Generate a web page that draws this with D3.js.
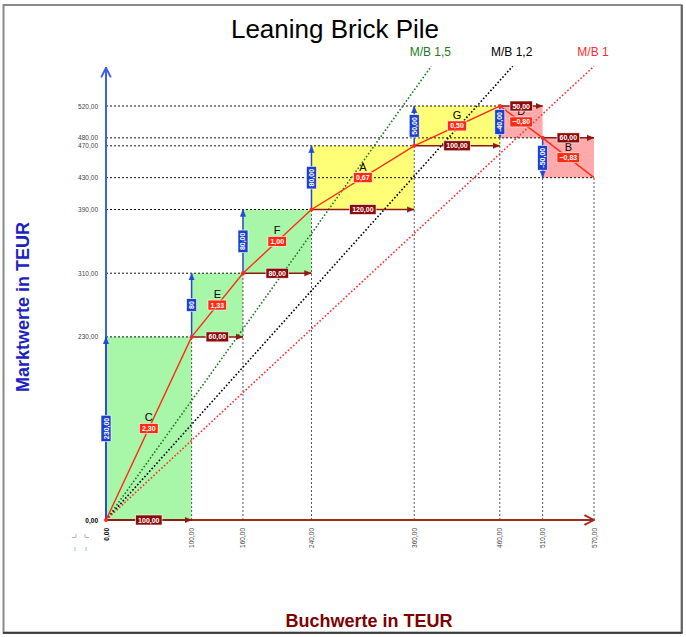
<!DOCTYPE html>
<html>
<head>
<meta charset="utf-8">
<script src="https://cdn.jsdelivr.net/npm/d3@7"></script>
<style>
  body { margin: 0; background: #fff; }
  svg { display: block; font-family: Arial, "Liberation Sans", sans-serif; }
</style>
</head>
<body>
<div id="chart"></div>
<script>
// Daten: Buchwert / Marktwert je Eckpunkt des Stapels
const segmentNames = ["C", "E", "F", "A", "G", "D", "B"];
const buchwerte = [0, 100, 160, 240, 360, 460, 510, 570];
const marktwerte = [0, 230, 310, 390, 470, 520, 480, 430];
const deltaMarktLabels = ["230,00", "80", "80,00", "80,00", "50,00", "-40,00", "-50,00"];
const yTicks = [0, 230, 310, 390, 430, 470, 480, 520];
const xTicks = [0, 100, 160, 240, 360, 460, 510, 570];
const mbNames = ["M/B 1,5", "M/B 1,2", "M/B 1"];
const mbRatios = [1.5, 1.2, 1];

const w = 686, h = 637;
const fmt = v => d3.format(".2f")(v).replace(".", ",");

const x = d3.scaleLinear().domain([0, 570]).range([106, 594]);
const y = d3.scaleLinear().domain([0, 570]).range([520, 66.2]);

const zoneColor = d3.scaleThreshold().domain([0, 1]).range(["#ffaaaa", "#ffff77", "#a8f7a8"]);
const mbColor = d3.scaleOrdinal().domain(mbNames).range(["#1f7a1f", "#000000", "#ff2b2b"]);

const points = buchwerte.map((b, i) => ({b: b, m: marktwerte[i]}));
const segments = segmentNames.map((name, i) => {
    const p0 = points[i], p1 = points[i + 1];
    const dB = p1.b - p0.b, dM = p1.m - p0.m;
    return {name: name, p0: p0, p1: p1, dB: dB, dM: dM, ratio: dM / dB, vLabel: deltaMarktLabels[i]};
});

const svg = d3.select("#chart").append("svg")
    .attr("width", w)
    .attr("height", h);

// Rahmen
svg.append("rect")
    .attr("x", 3.5).attr("y", 5)
    .attr("width", 678).attr("height", 627.5)
    .attr("fill", "#fff")
    .attr("stroke", "#8a8a8a")
    .attr("stroke-width", 2);
svg.append("line")
    .attr("x1", 3).attr("x2", 682.5).attr("y1", 633).attr("y2", 633)
    .attr("stroke", "#222").attr("stroke-width", 1.5);
svg.append("line")
    .attr("x1", 682).attr("x2", 682).attr("y1", 5).attr("y2", 633)
    .attr("stroke", "#555").attr("stroke-width", 1.5);

const defs = svg.append("defs");
function marker(id, color, size, open) {
    defs.append("marker")
        .attr("id", id)
        .attr("viewBox", "0 0 10 10")
        .attr("refX", open ? 9 : 10).attr("refY", 5)
        .attr("markerUnits", "userSpaceOnUse")
        .attr("markerWidth", size).attr("markerHeight", size)
        .attr("orient", "auto")
        .append("path")
        .attr("d", open ? "M1,1 L9,5 L1,9" : "M0,1 L10,5 L0,9 Z")
        .attr("fill", open ? "none" : color)
        .attr("stroke", color)
        .attr("stroke-width", open ? 1.6 : 0.5);
}
marker("arrBlue", "#2448d8", 7, false);
marker("arrRed", "#8b1a10", 7, false);
marker("openBlue", "#3d5ee6", 12, true);
marker("openRed", "#a02a20", 12, true);

// Titel
svg.append("text")
    .attr("x", 335).attr("y", 38)
    .attr("text-anchor", "middle")
    .attr("font-size", 26)
    .text("Leaning Brick Pile");

// Felder
svg.append("g").selectAll("rect")
    .data(segments)
    .enter().append("rect")
    .attr("x", d => x(Math.min(d.p0.b, d.p1.b)))
    .attr("y", d => y(Math.max(d.p0.m, d.p1.m)))
    .attr("width", d => Math.abs(x(d.p1.b) - x(d.p0.b)))
    .attr("height", d => Math.abs(y(d.p1.m) - y(d.p0.m)))
    .attr("fill", d => zoneColor(d.ratio));

// Hilfslinien
const grid = svg.append("g");
grid.selectAll("line.h")
    .data(points.slice(1))
    .enter().append("line")
    .attr("class", "h")
    .attr("x1", x(0)).attr("x2", d => x(d.b))
    .attr("y1", d => y(d.m)).attr("y2", d => y(d.m))
    .attr("stroke", "#111").attr("stroke-width", 1)
    .attr("stroke-dasharray", "2,2");
grid.selectAll("line.v")
    .data(points.slice(1))
    .enter().append("line")
    .attr("class", "v")
    .attr("x1", d => x(d.b)).attr("x2", d => x(d.b))
    .attr("y1", y(0)).attr("y2", d => y(d.m))
    .attr("stroke", "#555").attr("stroke-width", 1)
    .attr("stroke-dasharray", "2,2");

// M/B Linien
const mbTop = 570;
const mb = svg.append("g");
mb.selectAll("line")
    .data(mbNames)
    .enter().append("line")
    .attr("x1", x(0)).attr("y1", y(0))
    .attr("x2", (d, i) => x(mbTop / mbRatios[i]))
    .attr("y2", y(mbTop))
    .attr("stroke", d => mbColor(d))
    .attr("stroke-width", 1.6)
    .attr("stroke-dasharray", "1.6,2");
mb.selectAll("text")
    .data(mbNames)
    .enter().append("text")
    .attr("x", (d, i) => x(mbTop / mbRatios[i]) - 1)
    .attr("y", 56)
    .attr("text-anchor", "middle")
    .attr("font-size", 12)
    .attr("fill", d => mbColor(d))
    .text(d => d);

// Achsen
svg.append("line")
    .attr("x1", x(0)).attr("y1", y(0))
    .attr("x2", x(0)).attr("y2", y(568))
    .attr("stroke", "#3d5ee6").attr("stroke-width", 2)
    .attr("marker-end", "url(#openBlue)");
svg.append("line")
    .attr("x1", x(0)).attr("y1", y(0))
    .attr("x2", x(570)).attr("y2", y(0))
    .attr("stroke", "#a02a20").attr("stroke-width", 2)
    .attr("marker-end", "url(#openRed)");

svg.append("g").selectAll("text")
    .data(yTicks)
    .enter().append("text")
    .attr("x", 98)
    .attr("y", d => y(d) + 2.5)
    .attr("text-anchor", "end")
    .attr("font-size", 6.5)
    .attr("font-weight", d => d === 0 ? "bold" : "normal")
    .attr("fill", d => d === 0 ? "#000" : "#444")
    .text(fmt);

svg.append("g").selectAll("text")
    .data(xTicks)
    .enter().append("text")
    .attr("transform", d => `translate(${x(d) + 2.5},528) rotate(-90)`)
    .attr("text-anchor", "end")
    .attr("font-size", 6.5)
    .attr("font-weight", d => d === 0 ? "bold" : "normal")
    .attr("fill", d => d === 0 ? "#000" : "#444")
    .text(fmt);

// kleine Markierungen unten links
const marks = svg.append("g").attr("stroke-width", 1);
marks.append("path").attr("d", "M72,537.5 H76 V534").attr("stroke", "#c8a8c8").attr("fill", "none");
marks.append("path").attr("d", "M85,534 V537.5 H89").attr("stroke", "#a8b0d8").attr("fill", "none");
marks.append("path").attr("d", "M75,547 V551").attr("stroke", "#a8b8e8");
marks.append("path").attr("d", "M86,547 V551").attr("stroke", "#a8b8e8");

// Roter Pfad
svg.append("path")
    .datum(points)
    .attr("d", d3.line().x(d => x(d.b)).y(d => y(d.m)))
    .attr("fill", "none")
    .attr("stroke", "#ff2a1a")
    .attr("stroke-width", 1.4);

// Pfeile
svg.append("g").selectAll("line")
    .data(segments)
    .enter().append("line")
    .attr("x1", d => x(d.p0.b)).attr("x2", d => x(d.p0.b))
    .attr("y1", d => y(d.p0.m)).attr("y2", d => y(d.p1.m))
    .attr("stroke", "#2448d8").attr("stroke-width", 1.5)
    .attr("marker-end", "url(#arrBlue)");
svg.append("g").selectAll("line")
    .data(segments)
    .enter().append("line")
    .attr("x1", d => x(d.p0.b)).attr("x2", d => x(d.p1.b))
    .attr("y1", d => y(d.p0.m)).attr("y2", d => y(d.p0.m))
    .attr("stroke", "#8b1a10").attr("stroke-width", 1.5)
    .attr("marker-end", "url(#arrRed)");

svg.append("g").selectAll("circle")
    .data(points.slice(0, -1))
    .enter().append("circle")
    .attr("cx", d => x(d.b)).attr("cy", d => y(d.m))
    .attr("r", 2)
    .attr("fill", "#ff2a1a");

// Beschriftungen
function labelBox(g, text, color, rotate) {
    const t = g.append("text")
        .attr("text-anchor", "middle")
        .attr("y", 2.5)
        .attr("font-size", 7)
        .attr("font-weight", "bold")
        .attr("fill", "#fff")
        .text(text);
    const tw = t.node().getComputedTextLength();
    g.insert("rect", "text")
        .attr("x", -tw / 2 - 2.5).attr("y", -5)
        .attr("width", tw + 5).attr("height", 10)
        .attr("fill", color)
        .attr("stroke", "#fff").attr("stroke-width", 0.6);
    if (rotate) g.attr("transform", g.attr("transform") + " rotate(-90)");
}

segments.forEach(s => {
    const mx = (x(s.p0.b) + x(s.p1.b)) / 2;
    const my = (y(s.p0.m) + y(s.p1.m)) / 2;

    svg.append("text")
        .attr("x", mx).attr("y", my - 7)
        .attr("text-anchor", "middle")
        .attr("font-size", 11)
        .text(s.name);

    const gr = svg.append("g").attr("transform", `translate(${mx},${my})`);
    labelBox(gr, fmt(s.ratio), "#ff2a12", false);

    const gv = svg.append("g").attr("transform", `translate(${x(s.p0.b)},${(y(s.p0.m) + y(s.p1.m)) / 2})`);
    labelBox(gv, s.vLabel, "#1c3fd0", true);

    const gh = svg.append("g").attr("transform", `translate(${mx},${y(s.p0.m)})`);
    labelBox(gh, fmt(s.dB), "#8b0a0a", false);
});

// Achsentitel
svg.append("text")
    .attr("transform", "translate(29,307) rotate(-90)")
    .attr("text-anchor", "middle")
    .attr("font-size", 18)
    .attr("font-weight", "bold")
    .attr("fill", "#1c22c0")
    .text("Marktwerte in TEUR");

svg.append("text")
    .attr("x", 369).attr("y", 627)
    .attr("text-anchor", "middle")
    .attr("font-size", 18)
    .attr("font-weight", "bold")
    .attr("fill", "#800000")
    .text("Buchwerte in TEUR");
</script>
</body>
</html>
